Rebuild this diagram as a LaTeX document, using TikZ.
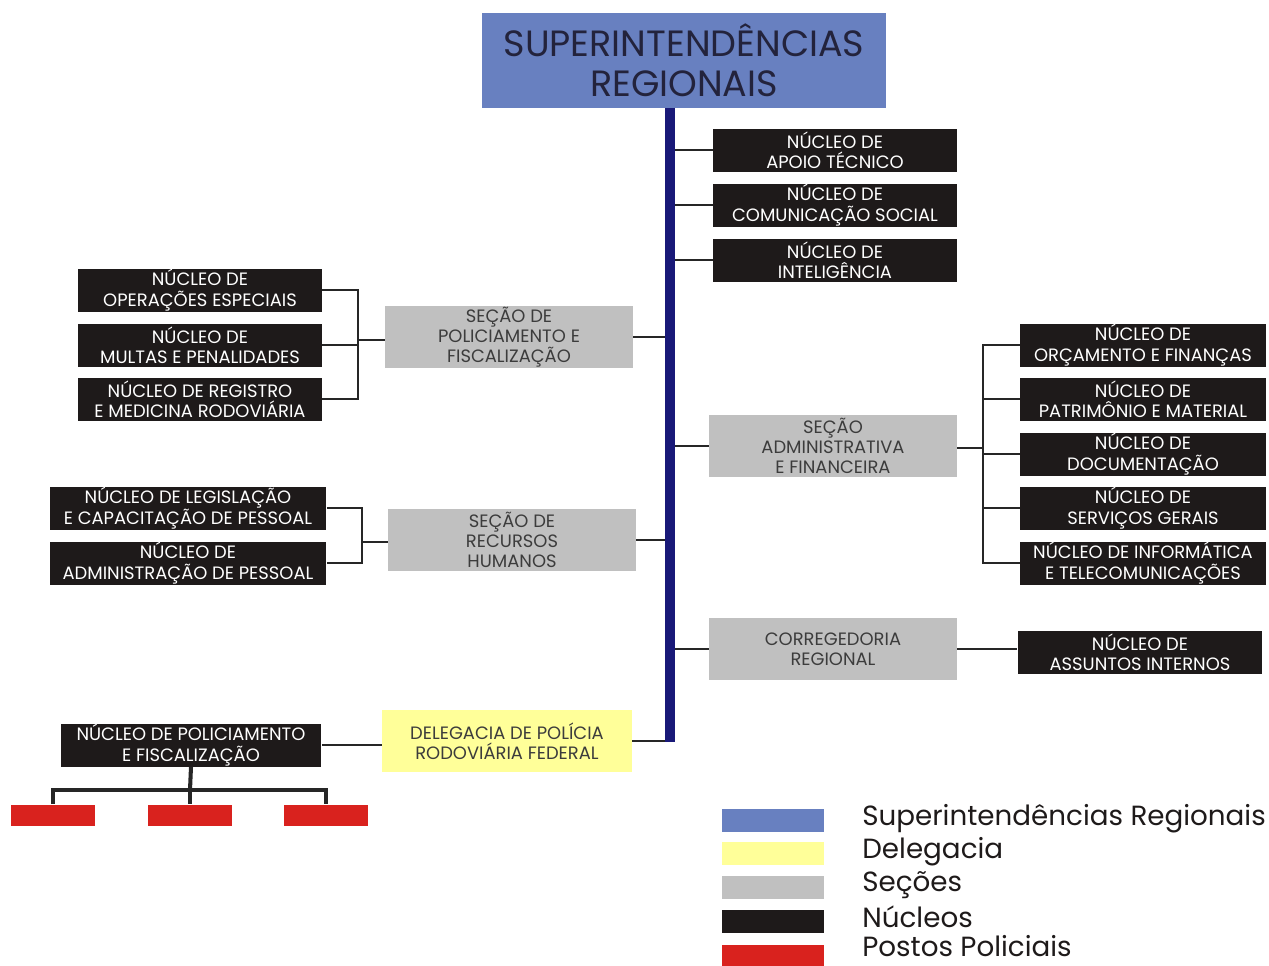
\documentclass[tikz,border=0pt]{standalone}
\usepackage{fontspec}
\setmainfont{Poppins}
\usetikzlibrary{positioning}

\definecolor{supblue}{RGB}{104,128,192}
\definecolor{nucblack}{RGB}{30,26,26}
\definecolor{secgray}{RGB}{192,192,192}
\definecolor{sectext}{RGB}{60,60,60}
\definecolor{delyellow}{RGB}{255,255,153}
\definecolor{postored}{RGB}{217,34,30}
\definecolor{barnavy}{RGB}{25,25,120}
\definecolor{titletext}{RGB}{35,35,60}

\begin{document}
\begin{tikzpicture}[
  x=0.02cm, y=-0.02cm,
  sup/.style={
    fill=supblue,
    text=titletext,
    minimum width=8.08cm,
    minimum height=1.9cm,
    align=center,
    font=\fontsize{20.8}{22.5}\selectfont,
    inner sep=0pt
  },
  nucleo/.style={
    fill=nucblack,
    text=white,
    minimum width=4.88cm,
    minimum height=0.86cm,
    align=center,
    font=\fontsize{10.2}{11.4}\selectfont,
    inner sep=0pt
  },
  secao/.style={
    fill=secgray,
    text=sectext,
    minimum width=4.96cm,
    minimum height=1.24cm,
    align=center,
    font=\fontsize{10.2}{11.4}\selectfont,
    inner sep=0pt
  },
  posto/.style={fill=postored, minimum width=1.7cm, minimum height=0.42cm, inner sep=0pt},
  swatch/.style={minimum width=2.06cm, minimum height=0.46cm, inner sep=0pt},
  legtext/.style={anchor=west, text=nucblack, font=\fontsize{15.8}{18}\selectfont, inner sep=0pt},
  link/.style={draw=black!85, line width=1.2pt},
  thicklink/.style={draw=black!85, line width=2.3pt},
  bar/.style={draw=barnavy, line width=5.7pt}
]
\useasboundingbox (0,0) rectangle (1269,965);

% Root
\node[sup] (sup) at (684,60) {SUPERINTENDÊNCIAS\\REGIONAIS};
\coordinate (bartop) at (670,108);
\coordinate (barbot) at (670,742);

% Nucleos ligados direto
\node[nucleo] (apoio) at (835,150) {NÚCLEO DE\\APOIO TÉCNICO};
\node[nucleo] (comun) at (835,205) {NÚCLEO DE\\COMUNICAÇÃO SOCIAL};
\node[nucleo] (intel) at (835,260) {NÚCLEO DE\\INTELIGÊNCIA};

% Secao de policiamento
\node[secao] (secpol) at (509,337) {SEÇÃO DE\\POLICIAMENTO E\\FISCALIZAÇÃO};
\node[nucleo] (opesp) at (200,290) {NÚCLEO DE\\OPERAÇÕES ESPECIAIS};
\node[nucleo] (multas) at (200,345) {NÚCLEO DE\\MULTAS E PENALIDADES};
\node[nucleo] (regmed) at (200,399) {NÚCLEO DE REGISTRO\\E MEDICINA RODOVIÁRIA};
\coordinate (brk1) at (358,340);

% Secao de recursos humanos
\node[secao] (secrh) at (512,540) {SEÇÃO DE\\RECURSOS\\HUMANOS};
\node[nucleo, minimum width=5.54cm] (legis) at (188,508) {NÚCLEO DE LEGISLAÇÃO\\E CAPACITAÇÃO DE PESSOAL};
\node[nucleo, minimum width=5.54cm] (admpes) at (188,563) {NÚCLEO DE\\ADMINISTRAÇÃO DE PESSOAL};
\coordinate (brk2) at (362,542);

% Secao administrativa
\node[secao] (secadm) at (833,446) {SEÇÃO\\ADMINISTRATIVA\\E FINANCEIRA};
\node[nucleo, minimum width=4.92cm] (orcam) at (1143,345) {NÚCLEO DE\\ORÇAMENTO E FINANÇAS};
\node[nucleo, minimum width=4.92cm] (patrim) at (1143,399) {NÚCLEO DE\\PATRIMÔNIO E MATERIAL};
\node[nucleo, minimum width=4.92cm] (docum) at (1143,454) {NÚCLEO DE\\DOCUMENTAÇÃO};
\node[nucleo, minimum width=4.92cm] (servgr) at (1143,508) {NÚCLEO DE\\SERVIÇOS GERAIS};
\node[nucleo, minimum width=4.92cm] (inform) at (1143,563) {NÚCLEO DE INFORMÁTICA\\E TELECOMUNICAÇÕES};
\coordinate (brk3) at (983,448);

% Corregedoria
\node[secao] (correg) at (833,649) {CORREGEDORIA\\REGIONAL};
\node[nucleo, minimum width=4.9cm] (assint) at (1140,652) {NÚCLEO DE\\ASSUNTOS INTERNOS};

% Delegacia
\node[secao, fill=delyellow, minimum width=5cm] (deleg) at (507,741) {DELEGACIA DE POLÍCIA\\RODOVIÁRIA FEDERAL};
\node[nucleo, minimum width=5.22cm] (nucpol) at (191,745) {NÚCLEO DE POLICIAMENTO\\E FISCALIZAÇÃO};
\node[posto] (posto1) at (53,815) {};
\node[posto] (posto2) at (190,815) {};
\node[posto] (posto3) at (326,815) {};
\coordinate (split) at (190,790);

% Connectors
\draw[link] (apoio.west) -- (apoio.west -| bartop);
\draw[link] (comun.west) -- (comun.west -| bartop);
\draw[link] (intel.west) -- (intel.west -| bartop);

\draw[link] (opesp.east) -| (brk1) |- (regmed.east);
\draw[link] (multas.east) -- (multas.east -| brk1);
\draw[link] (brk1) -- (brk1 -| secpol.west);
\draw[link] (secpol.east) -- (secpol.east -| bartop);

\draw[link] (legis.east) -| (brk2) |- (admpes.east);
\draw[link] (brk2) -- (brk2 -| secrh.west);
\draw[link] (secrh.east) -- (secrh.east -| bartop);

\draw[link] (secadm.west) -- (secadm.west -| bartop);
\draw[link] (orcam.west) -| (brk3) |- (inform.west);
\draw[link] (patrim.west) -- (patrim.west -| brk3);
\draw[link] (docum.west) -- (docum.west -| brk3);
\draw[link] (servgr.west) -- (servgr.west -| brk3);
\draw[link] (brk3) -- (brk3 -| secadm.east);

\draw[link] (correg.west) -- (correg.west -| bartop);
\draw[link] (correg.east) -- (correg.east -| assint.west);

\draw[link] (deleg.east) -- (deleg.east -| barbot);
\draw[link] (nucpol.east) -- (nucpol.east -| deleg.west);
\draw[thicklink] (nucpol.south) -- (split);
\draw[thicklink] (posto1.north) -- (posto1.north |- split) -- (posto3.north |- split) -- (posto3.north);
\draw[thicklink] (split) -- (posto2.north);

\draw[bar] (sup.south -| bartop) -- (barbot);

% Legend
\node[swatch, fill=supblue] (legsup) at (773,820) {};
\node[swatch, fill=delyellow] (legdel) at (773,853) {};
\node[swatch, fill=secgray] (legsec) at (773,887) {};
\node[swatch, fill=nucblack] (legnuc) at (773,921) {};
\node[swatch, fill=postored] (legpos) at (773,956) {};
\node[legtext] at (862,819) {Superintendências Regionais};
\node[legtext] at (862,852) {Delegacia};
\node[legtext] at (862,885) {Seções};
\node[legtext] at (862,917) {Núcleos};
\node[legtext] at (862,946) {Postos Policiais};

\end{tikzpicture}
\end{document}
